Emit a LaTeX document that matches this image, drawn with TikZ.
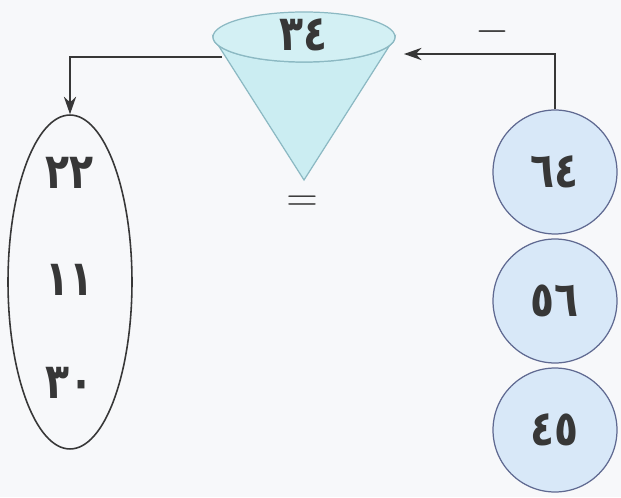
\documentclass[tikz,border=0pt]{standalone}
\usepackage{fontspec}
\newfontfamily\arabicfont[Script=Arabic, FakeStretch=0.8]{DejaVu Sans}
\usetikzlibrary{shapes.geometric,arrows.meta}

\definecolor{paper}{RGB}{247,248,250}
\definecolor{conecyan}{RGB}{203,237,242}
\definecolor{coneline}{RGB}{140,185,195}
\definecolor{ballblue}{RGB}{216,232,248}
\definecolor{ballline}{RGB}{95,105,145}
\definecolor{inkgray}{RGB}{55,55,55}

\tikzset{
    num/.style={font=\arabicfont\bfseries\fontsize{28}{32}\selectfont, text=inkgray},
    sign/.style={font=\fontsize{28}{32}\selectfont, text=inkgray, inner sep=0pt,
        text height=0.5cm, text depth=0pt},
    ball/.style={circle, draw=ballline, fill=ballblue, line width=0.7pt,
        minimum size=2.48cm, inner sep=0pt},
    flow/.style={-{Stealth[length=10pt,width=7pt]}, line width=1pt, draw=inkgray}
}

\begin{document}
\begin{tikzpicture}[x=0.02cm, y=0.02cm]
    % fond
    \fill[paper] (0,0) rectangle (621,497);
    \useasboundingbox (0,0) rectangle (621,497);

    % --- Entonnoir ---
    \filldraw[fill=conecyan, draw=coneline, line width=0.7pt]
        (213,460) -- (304,317) -- (395,460) arc (0:-180:91 and 25) -- cycle;
    \draw[coneline, line width=0.7pt, fill=conecyan!85!white] (304,460) ellipse (91 and 25);
    \node[num] (res) at (304,462) {٣٤};
    \node[sign] (eq) at (302,298) {$=$};

    % --- Boules ---
    \node[ball, num] (b64) at (555,325) {٦٤};
    \node[ball, num] (b56) at (555,196) {٥٦};
    \node[ball, num] (b45) at (555,67) {٤٥};

    % --- Ensemble ---
    \node[ellipse, draw=inkgray, line width=0.9pt, minimum width=2.48cm,
        minimum height=6.68cm, inner sep=0pt] (grp) at (70,215) {};
    \node[num] (n22) at (70,324) {٢٢};
    \node[num] (n11) at (70,217) {١١};
    \node[num] (n30) at (70,114) {٣٠};

    % --- Fleches ---
    \coordinate (in) at (404,443);
    \coordinate (out) at (222,440);
    \draw[flow] (b64.north) |- (in);
    \node[sign] (minus) at (492,467) {$-$};
    \draw[flow] (out) -| (grp.north);
\end{tikzpicture}
\end{document}
